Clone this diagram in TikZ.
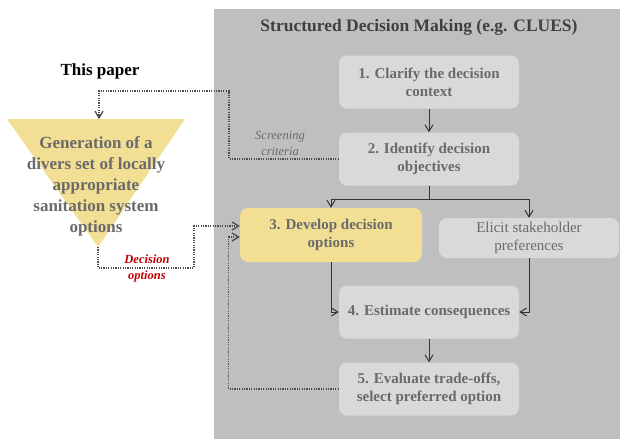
\documentclass[tikz,border=0pt]{standalone}
\usepackage{fontspec}
\setmainfont{Liberation Serif}
\usepackage{tikz}
\usetikzlibrary{positioning,arrows.meta}
\definecolor{panelgray}{RGB}{191,191,191}
\definecolor{boxgray}{RGB}{217,217,217}
\definecolor{stepgray}{RGB}{106,106,106}
\definecolor{titlegray}{RGB}{64,64,64}
\definecolor{sanyellow}{RGB}{242,223,148}
\definecolor{optred}{RGB}{192,0,0}
\newcommand{\fs}[2]{\fontsize{#1}{#2}\selectfont}
\tikzset{
  stepbox/.style={rectangle, rounded corners=8pt, fill=boxgray, text=stepgray, align=center,
                  font=\fs{15}{18}\bfseries, minimum width=180pt, minimum height=53pt, inner sep=2pt},
  devbox/.style={stepbox, fill=sanyellow, minimum width=182pt, minimum height=54pt},
  elicitbox/.style={stepbox, font=\fs{15}{18}, minimum height=40pt},
  sidelabel/.style={align=center, inner sep=1pt},
  ar/.style={-{Straight Barb[length=2.3mm,width=2.8mm]}, line width=1pt, draw=black!80},
  dotar/.style={-{Straight Barb[length=2.3mm,width=2.8mm]}, line width=1.3pt, draw=black!70,
                dash pattern=on 1.2pt off 1.2pt},
}
\begin{document}
\begin{tikzpicture}[x=1pt,y=-1pt]
  \useasboundingbox (0,0) rectangle (620,439);
  % grey SDM panel
  \fill[panelgray] (214,9) rectangle (620,439);
  \node[font=\fs{17.5}{20}\bfseries, text=titlegray] (sdm) at (419,27)
    {Structured Decision Making (e.g. CLUES)};

  % this paper: funnel
  \node[font=\fs{17}{20}\bfseries] (paper) at (100,71) {This paper};
  \fill[sanyellow] (7,119) -- (185,119) -- (98,247) -- cycle;
  \coordinate (tritop) at (99,119);
  \coordinate (apex) at (98,247);
  \node[font=\fs{17}{21}\bfseries, text=stepgray, align=center] (gen) at (96,186)
    {Generation of a\\divers set of locally\\appropriate\\sanitation system\\options};

  % SDM steps
  \node[stepbox] (clarify) at (429,82) {1. Clarify the decision\\context};
  \node[stepbox] (identify) at (429,159) {2. Identify decision\\objectives};
  \node[devbox] (develop) at (331,235) {3. Develop decision\\options};
  \node[elicitbox] (elicit) at (529,238) {Elicit stakeholder\\preferences};
  \node[stepbox] (estimate) at (429,312) {4. Estimate consequences};
  \node[stepbox] (evaluate) at (429,389) {5. Evaluate trade-offs,\\select preferred option};

  \coordinate (split) at (429,199);
  \draw[ar] (clarify) -- (identify);
  \draw[line width=1pt, draw=black!80] (identify) -- (split);
  \draw[ar] (split) -| (develop);
  \draw[ar] (split) -| (elicit);
  \draw[ar] (develop.south) |- (estimate.west);
  \draw[ar] (elicit.south) |- (estimate.east);
  \draw[ar] (estimate) -- (evaluate);

  % links between the paper and SDM
  \coordinate (scrturn) at (229,91);
  \coordinate (optturn) at (194,268);
  \draw[dotar] (identify.west) -| (scrturn) -| (tritop);
  \draw[dotar] (apex) |- (optturn) |- ([yshift=9pt]develop.west);
  \draw[dotar] (evaluate.west) -| ([xshift=-11pt,yshift=-2pt]develop.west)
    -- ([yshift=-2pt]develop.west);
  \node[sidelabel, font=\fs{12.5}{16}\itshape, text=stepgray] (screen) at (280,143)
    {Screening\\criteria};
  \node[sidelabel, font=\fs{12.5}{16}\bfseries\itshape, text=optred] (opts) at (147,268)
    {Decision\\options};
\end{tikzpicture}
\end{document}
